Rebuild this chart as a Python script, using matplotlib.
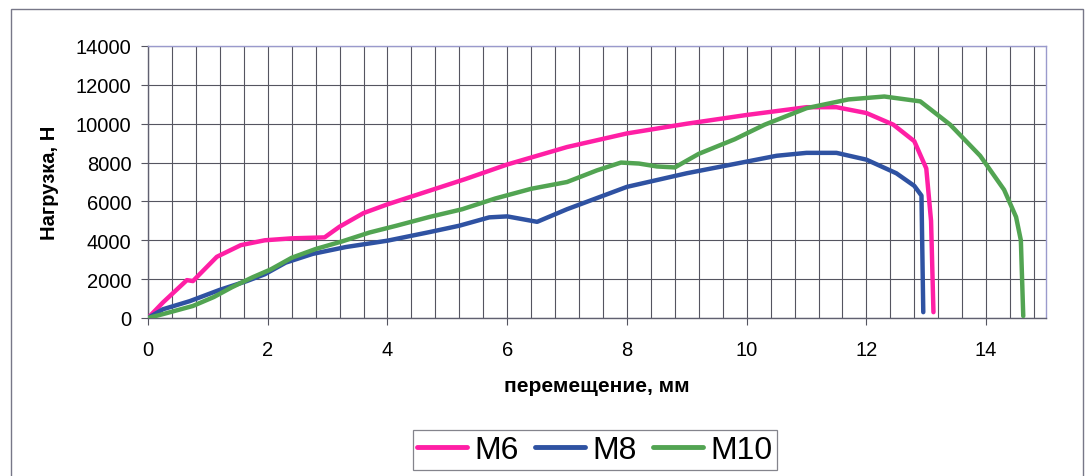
import matplotlib
matplotlib.use("Agg")
import matplotlib.pyplot as plt
from matplotlib.patches import Rectangle
from matplotlib.ticker import MultipleLocator

plt.rcParams['font.family'] = ['Liberation Sans', 'DejaVu Sans']

series_names = ["M6", "M8", "M10"]

m6_x = [0, 0.25, 0.65, 0.75, 1.15, 1.55, 1.95, 2.4, 2.95, 3.2, 3.6, 4.0, 4.7, 5.3, 6.0, 7.0,
        8.0, 9.0, 10.0, 11.0, 11.5, 12.0, 12.45, 12.8, 13.0, 13.08, 13.12]
m6_y = [0, 800, 1950, 1900, 3150, 3750, 4000, 4100, 4150, 4700, 5400, 5850, 6550, 7150, 7900, 8800,
        9500, 10000, 10450, 10850, 10850, 10550, 9950, 9100, 7700, 5000, 300]

m8_x = [0, 0.25, 0.7, 1.2, 1.65, 1.95, 2.3, 2.75, 3.3, 4.0, 4.7, 5.2, 5.7, 6.0, 6.5, 7.0,
        8.0, 9.0, 10.0, 10.5, 11.0, 11.5, 12.0, 12.5, 12.8, 12.92, 12.95]
m8_y = [0, 450, 870, 1450, 1900, 2250, 2850, 3300, 3650, 3980, 4420, 4750, 5180, 5230, 4950, 5600,
        6750, 7450, 8050, 8350, 8500, 8500, 8150, 7450, 6800, 6300, 300]

m10_x = [0, 0.25, 0.75, 1.1, 1.4, 1.75, 2.05, 2.4, 2.8, 3.25, 3.7, 4.15, 4.7, 5.25, 5.8, 6.4,
         7.0, 7.5, 7.9, 8.2, 8.5, 8.8, 9.2, 9.8, 10.3, 11.0, 11.7, 12.3, 12.9, 13.4, 13.9,
         14.3, 14.5, 14.58, 14.62]
m10_y = [0, 200, 620, 1080, 1580, 2100, 2500, 3100, 3550, 3950, 4400, 4750, 5200, 5600, 6150, 6650,
         7000, 7600, 8000, 7950, 7800, 7750, 8450, 9200, 9950, 10800, 11250, 11400, 11150, 9950, 8350,
         6600, 5200, 4000, 100]

colors = ["#FF1FA5", "#2F52A2", "#52A452"]

fig = plt.figure(figsize=(10.85, 4.77), dpi=100)
ax = fig.add_axes([148/1085, 1 - 319/477, (1046-148)/1085, (319-47)/477])

for xs, ys, c, n in zip([m6_x, m8_x, m10_x], [m6_y, m8_y, m10_y], colors, series_names):
    ax.plot(xs, ys, color=c, lw=3.2, label=n, solid_capstyle='round', solid_joinstyle='round', zorder=3)

ax.set_xlim(0, 15)
ax.set_ylim(0, 14000)
ax.xaxis.set_major_locator(MultipleLocator(2))
ax.xaxis.set_minor_locator(MultipleLocator(0.4))
ax.yaxis.set_major_locator(MultipleLocator(2000))
ax.grid(True, which='both', axis='x', color='#555560', lw=0.8)
ax.grid(True, which='major', axis='y', color='#555560', lw=0.8)
ax.tick_params(axis='x', which='minor', length=0)
ax.tick_params(axis='both', which='major', length=5, width=0.8, color='#555560',
               labelsize=14.5, direction='out')
ax.tick_params(axis='x', pad=11)
ax.tick_params(axis='y', pad=7)
for s in ['top', 'right']:
    ax.spines[s].set_color('#9A9ACC')
    ax.spines[s].set_linewidth(1.0)
for s in ['left', 'bottom']:
    ax.spines[s].set_color('#606070')
    ax.spines[s].set_linewidth(1.0)

ax.set_xlabel("перемещение, мм", fontsize=15, fontweight='bold', labelpad=12)
ax.set_ylabel("Нагрузка, Н", fontsize=14.5, fontweight='bold', labelpad=12)

leg = ax.legend(loc='center', bbox_to_anchor=(595/1085, 26/477), bbox_transform=fig.transFigure,
                ncol=3, fontsize=23, frameon=True, fancybox=False, handlelength=1.55,
                handletextpad=0.25, columnspacing=0.5, borderpad=0.15, borderaxespad=0)
leg.get_frame().set_edgecolor('#666670')
leg.get_frame().set_linewidth(0.9)
for l in leg.get_lines():
    l.set_linewidth(3.5)

fig.patches.append(Rectangle((11/1085, -0.05), (1083-11)/1085, 1 - 10/477 + 0.05,
                             transform=fig.transFigure, fill=False, edgecolor='#777788', lw=1.0))

fig.savefig("out.png", dpi=100)
